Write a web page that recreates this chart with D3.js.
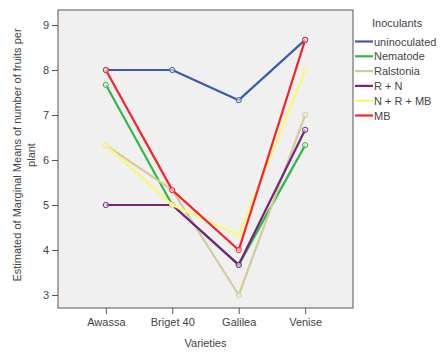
<!DOCTYPE html>
<html><head><meta charset="utf-8">
<script src="https://cdn.jsdelivr.net/npm/d3@7"></script>
<style>body{margin:0;background:#fff;}svg{display:block;font-family:"Liberation Sans",Arial,sans-serif;}</style>
</head><body>
<svg id="c" width="443" height="356"></svg>
<script>
const varieties = ["Awassa","Briget 40","Galilea","Venise"];
const seriesNames = ["uninoculated","Nematode","Ralstonia","R + N","N + R + MB","MB"];
const uninoculated = [8, 8, 7.33, 8.67];
const nematode = [7.67, 5, 3.67, 6.33];
const ralstonia = [6.33, 5.33, 3, 7];
const rPlusN = [5, 5, 3.67, 6.67];
const nrmb = [6.33, 5, 4.33, 8];
const mb = [8, 5.33, 4, 8.67];
const yTicks = [3,4,5,6,7,8,9];
const colors = ["#3E58AC","#2EB848","#D4CC98","#752580","#FBF873","#F82328"];
const seriesValues = [uninoculated, nematode, ralstonia, rPlusN, nrmb, mb];

const svg = d3.select("#c");
const L = 58, R = 353, T = 10, B = 308;
const x = d3.scalePoint().domain(varieties).range([L, R]).padding(0.72);
const y = d3.scaleLinear().domain([2.711, 9.333]).range([B, T]);

svg.append("rect").attr("x", L).attr("y", T).attr("width", R-L).attr("height", B-T)
  .attr("fill", "#f0f0f0").attr("stroke", "#555").attr("stroke-width", 1);

const yAxis = svg.append("g").attr("transform", `translate(${L},0)`)
  .call(d3.axisLeft(y).tickValues(yTicks).tickSize(6).tickPadding(3).tickFormat(d3.format("d")));
const xAxis = svg.append("g").attr("transform", `translate(0,${B})`)
  .call(d3.axisBottom(x).tickSize(6).tickPadding(4));
[yAxis, xAxis].forEach(g => {
  g.select(".domain").remove();
  g.selectAll("line").attr("stroke", "#555");
  g.selectAll("text").attr("font-size", 11).attr("fill", "#444").attr("font-family", "Liberation Sans, Arial, sans-serif");
});

const line = d3.line().x((d,i) => x(varieties[i])).y(d => y(d));
seriesValues.forEach((vals, si) => {
  const g = svg.append("g");
  g.append("path").datum(vals).attr("d", line).attr("fill", "none")
    .attr("stroke", colors[si]).attr("stroke-width", 2.2).attr("stroke-linejoin", "round");
  g.selectAll("circle").data(vals).join("circle")
    .attr("cx", (d,i) => x(varieties[i])).attr("cy", d => y(d)).attr("r", 2.6)
    .attr("fill", "#f0f0f0").attr("fill-opacity", 0.6).attr("stroke", colors[si]).attr("stroke-width", 1);
});

// axis titles
svg.append("text").attr("x", (L+R)/2).attr("y", 347).attr("text-anchor", "middle")
  .attr("font-size", 11).attr("fill", "#444").text("Varieties");
const yt = svg.append("text").attr("transform", `translate(21,${(T+B)/2 - 4}) rotate(-90)`)
  .attr("text-anchor", "middle").attr("font-size", 11).attr("fill", "#444");
yt.append("tspan").attr("x", 0).attr("dy", 0).text("Estimated of Marginal Means of number of fruits per");
yt.append("tspan").attr("x", 0).attr("dy", 14).text("plant");

// legend
const lg = svg.append("g");
lg.append("text").attr("x", 372).attr("y", 27).attr("font-size", 11).attr("fill", "#444").text("Inoculants");
seriesNames.forEach((n, i) => {
  const yy = 41.5 + i * 14.8;
  lg.append("line").attr("x1", 355).attr("x2", 373).attr("y1", yy).attr("y2", yy)
    .attr("stroke", colors[i]).attr("stroke-width", 2.2);
  lg.append("text").attr("x", 374).attr("y", yy + 4).attr("font-size", 11).attr("fill", "#444").text(n);
});
</script>
</body></html>
